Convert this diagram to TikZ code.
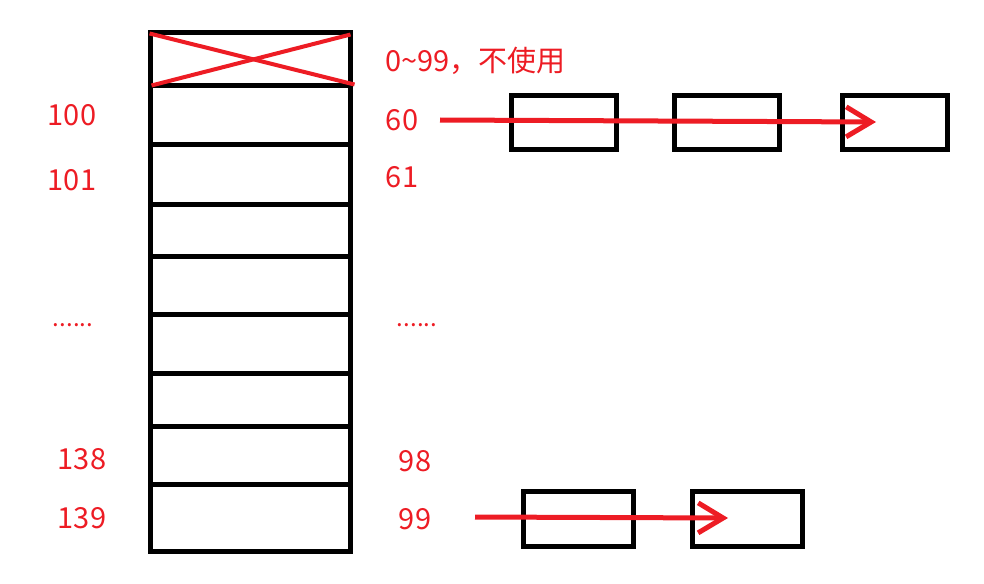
\documentclass[tikz,border=0pt]{standalone}
\usepackage{fontspec}
\setmainfont{Noto Sans CJK SC}
\usetikzlibrary{arrows.meta}
\definecolor{paintred}{RGB}{237,28,36}
\begin{document}
\begin{tikzpicture}[x=1pt, y=-1pt,
  cell/.style={draw, line width=5pt, minimum width=200pt, inner sep=0pt},
  listbox/.style={draw, line width=5pt, minimum width=105pt, minimum height=54pt, inner sep=0pt},
  lbl/.style={text=paintred, font=\fontsize{29}{29}\selectfont, anchor=base, inner sep=0pt},
  dotlbl/.style={lbl, font=\fontsize{24}{24}\selectfont},
  link/.style={draw=paintred, line width=5pt, -{Straight Barb[length=25pt, width=30pt]}}]
  \useasboundingbox (0,0) rectangle (984,583);
  % table column
  \foreach \t/\b [count=\i from 0] in {33/86,86/144,144/204,204/256,256/314,314/373,373/426,426/484,484/551}
    \node[cell, minimum height={(\b-\t)*1pt}] (c\i) at (250,{(\t+\b)/2}) {};
  \draw[paintred, line width=4pt] ([xshift=2pt,yshift=-3pt]c0.north west) -- ([xshift=2pt,yshift=4pt]c0.south east);
  \draw[paintred, line width=4pt] ([xshift=4pt,yshift=3pt]c0.south west) -- ([xshift=-2pt,yshift=-4pt]c0.north east);
  % labels
  \node[lbl] (l100) at (72,125) {100};
  \node[lbl] (l101) at (72,190) {101};
  \node[dotlbl] (ldots) at (73,326) {......};
  \node[lbl] (l138) at (82,469) {138};
  \node[lbl] (l139) at (82,528) {139};
  \node[lbl, anchor=base west] (lfree) at (385,72) {0\textasciitilde 99，不使用};
  \node[lbl] (r60) at (402,130) {60};
  \node[lbl] (r61) at (402,187) {61};
  \node[dotlbl] (rdots) at (417,326) {......};
  \node[lbl] (r98) at (415,471) {98};
  \node[lbl] (r99) at (415,529) {99};
  % chains
  \foreach \x [count=\i] in {563.5,726.5,895}
    \node[listbox] (a\i) at (\x,122.5) {};
  \foreach \x [count=\i] in {578,747}
    \node[listbox, minimum width=110pt, minimum height=55pt] (b\i) at (\x,518.5) {};
  \coordinate (s60) at (440,120);
  \coordinate (e60) at (876,122);
  \coordinate (s99) at (475,517);
  \coordinate (e99) at (728,518);
  \draw[link] (s60) -- (e60);
  \draw[link] (s99) -- (e99);
\end{tikzpicture}
\end{document}
